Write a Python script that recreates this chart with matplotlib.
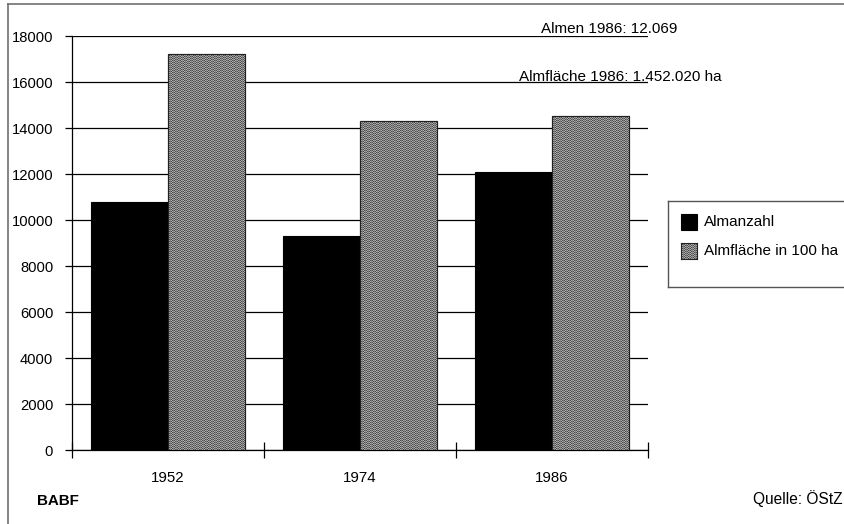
import numpy as np
import matplotlib
matplotlib.use("Agg")
import matplotlib.pyplot as plt
from matplotlib.patches import Rectangle
from matplotlib.lines import Line2D

plt.rcParams['font.family'] = ['Liberation Sans', 'DejaVu Sans']

# --- data ---------------------------------------------------------------
years = ['1952', '1974', '1986']
almanzahl = [10800, 9300, 12069]
almflaeche_100ha = [17200, 14300, 14520]
series_labels = ['Almanzahl', 'Almfläche in 100 ha']
y_ticks = [0, 2000, 4000, 6000, 8000, 10000, 12000, 14000, 16000, 18000]
note_almen = 'Almen 1986: 12.069'
note_flaeche = 'Almfläche 1986: 1.452.020 ha'

W, H = 845, 524
fig = plt.figure(figsize=(W / 100, H / 100), dpi=100)


def fx(px):
    return px / W


def fy(py):
    return 1 - py / H


# stippled grey texture used for the area series
def texture(h, w):
    dark, mid, light = 0.30, 0.50, 0.68
    img = np.full((h, w), mid)
    rows = np.arange(h)[:, None]
    cols = np.arange(w)[None, :]
    checker = ((rows + cols) % 2 == 0)
    stripe = (cols % 3 != 2)
    img = np.where(stripe & checker, dark, img)
    img = np.where(stripe & ~checker, light, img)
    return np.dstack([img, img, img])


ax = fig.add_axes([fx(72), fy(450), fx(648) - fx(72), fy(36) - fy(450)])
x = np.arange(len(years))
bw = 0.4
ax.set_xlim(-0.5, len(years) - 0.5)
ax.set_ylim(0, 18000)

ax.bar(x - bw / 2, almanzahl, width=bw, color='black', edgecolor='black',
       linewidth=0.8, zorder=3)
grey_bars = ax.bar(x + bw / 2, almflaeche_100ha, width=bw, color='#808080',
                   edgecolor='#222222', linewidth=0.8, zorder=3)

tex = texture(414, 576)
for patch in grey_bars:
    im = ax.imshow(tex, extent=(-0.5, len(years) - 0.5, 0, 18000),
                   aspect='auto', interpolation='nearest', zorder=3.5)
    im.set_clip_path(patch)
    edge = Rectangle(patch.get_xy(), patch.get_width(), patch.get_height(),
                     fill=False, edgecolor='#222222', linewidth=0.8, zorder=4)
    ax.add_patch(edge)

ax.set_yticks(y_ticks)
ax.set_yticklabels([str(v) for v in y_ticks], fontsize=10.6)
ax.yaxis.grid(True, color='black', linewidth=0.9)
ax.set_axisbelow(True)
ax.tick_params(axis='y', direction='out', length=5, width=0.9, pad=8.5)

ax.set_xticks(np.arange(len(years) + 1) - 0.5)
ax.set_xticklabels([])
ax.tick_params(axis='x', direction='inout', length=11, width=0.9)
for xi, lab in zip(x, years):
    ax.text(xi, -0.068, lab, transform=ax.get_xaxis_transform(),
            ha='center', va='center', fontsize=10.8)

for side in ['top', 'right']:
    ax.spines[side].set_visible(False)
for side in ['left', 'bottom']:
    ax.spines[side].set_linewidth(0.9)

# annotations above the top gridlines
fig.text(fx(677), fy(33), note_almen, ha='right', va='baseline', fontsize=11)
fig.text(fx(722), fy(81), note_flaeche, ha='right', va='baseline', fontsize=11)

# legend box, open to the right edge
for xs, ys in [([668, W - 0.5], [201, 201]), ([668, 668], [201, 287]),
               ([668, W - 0.5], [287, 287])]:
    fig.add_artist(Line2D([fx(v) for v in xs], [fy(v) for v in ys],
                          transform=fig.transFigure, color='#555555',
                          linewidth=1.0))
fig.add_artist(Rectangle((fx(681), fy(230)), fx(16), fy(214) - fy(230),
                         transform=fig.transFigure, facecolor='black',
                         edgecolor='black', linewidth=0.8))
sw = fig.add_axes([fx(681), fy(259), fx(16), fy(243) - fy(259)])
sw.imshow(texture(16, 16), aspect='auto', interpolation='nearest')
sw.set_xticks([])
sw.set_yticks([])
for s in sw.spines.values():
    s.set_linewidth(0.8)
    s.set_color('#222222')
fig.text(fx(704), fy(222), series_labels[0], ha='left', va='center', fontsize=11)
fig.text(fx(704), fy(251), series_labels[1], ha='left', va='center', fontsize=11)

# footer
fig.text(fx(37), fy(501), 'BABF', ha='left', va='center', fontsize=10.9,
         fontweight='bold')
fig.text(fx(843), fy(499), 'Quelle: ÖStZ', ha='right', va='center', fontsize=11.2)

# outer frame: left and top edges
fig.add_artist(Line2D([fx(8), fx(8)], [fy(4), 0], transform=fig.transFigure,
                      color='#707070', linewidth=1.2))
fig.add_artist(Line2D([fx(8), fx(W - 0.5)], [fy(4), fy(4)],
                      transform=fig.transFigure, color='#707070', linewidth=1.2))

fig.savefig('out.png', dpi=100)
